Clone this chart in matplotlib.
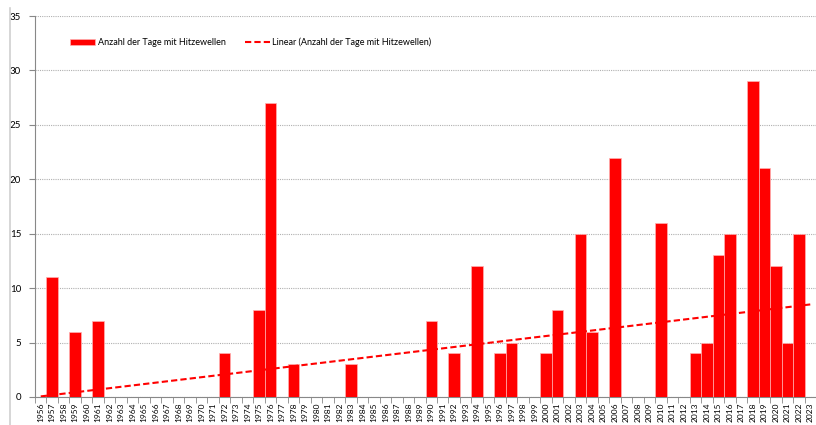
import numpy as np
import matplotlib.pyplot as plt
from matplotlib.lines import Line2D

plt.rcParams['font.family'] = ['Lato', 'DejaVu Sans']

years = list(range(1956, 2024))
# days with heat waves, only years that had any
hot_years = [1957, 1959, 1961, 1972, 1975, 1976, 1978, 1983, 1990, 1992, 1994,
             1996, 1997, 2000, 2001, 2003, 2004, 2006, 2010, 2013, 2014, 2015,
             2016, 2018, 2019, 2020, 2021, 2022]
hot_days = [11, 6, 7, 4, 8, 27, 3, 3, 7, 4, 12,
            4, 5, 4, 8, 15, 6, 22, 16, 4, 5, 13,
            15, 29, 21, 12, 5, 15]

days = np.zeros(len(years))
for y, d in zip(hot_years, hot_days):
    days[years.index(y)] = d

x = np.arange(len(years))

fig = plt.figure(figsize=(8.16, 4.25), dpi=100)
ax = fig.add_axes([35 / 816, 28 / 425, 781 / 816, 381 / 425])

bars = ax.bar(x, days, width=1.0, color='#ff0000', edgecolor='#ffb0b0', linewidth=0.5,
              label='Anzahl der Tage mit Hitzewellen', zorder=3)

# linear trendline like excel (over all years, zeros included)
k, d0 = np.polyfit(x, days, 1)
trend, = ax.plot(x, k * x + d0, color='#ff0000', linestyle=(0, (3, 1.5)), linewidth=1.5,
                 label='Linear (Anzahl der Tage mit Hitzewellen)', zorder=4)

ax.set_xlim(-0.5, len(years) - 0.5)
ax.set_ylim(0, 35)
ax.set_yticks(range(0, 36, 5))
ax.yaxis.grid(True, color='#b0b0b0', linestyle=(0, (1, 1)), linewidth=0.8, zorder=0)

ax.set_xticks(x)
ax.set_xticklabels([str(y) for y in years], rotation=90, fontsize=6)
ax.set_xticks(np.arange(-0.5, len(years), 1), minor=True)
ax.tick_params(axis='x', which='major', length=0, pad=4)
ax.tick_params(axis='x', which='minor', length=4, color='#888888')
ax.tick_params(axis='y', length=4, color='#888888', labelsize=7, pad=6)

for s in ['top', 'right']:
    ax.spines[s].set_visible(False)
ax.spines['left'].set_color('#888888')
ax.spines['bottom'].set_color('#888888')

ax.legend(handles=[bars, trend], loc='upper left', bbox_to_anchor=(0.035, 0.965), ncol=2,
          frameon=False, fontsize=6.5, handlelength=2.7, columnspacing=2.2, handletextpad=0.3)

# gray border line on the left of the chart
fig.add_artist(Line2D([10 / 816, 10 / 816], [0, 417 / 425], color='#d0d0d0', linewidth=1.2))

fig.savefig('out.png', dpi=100)
